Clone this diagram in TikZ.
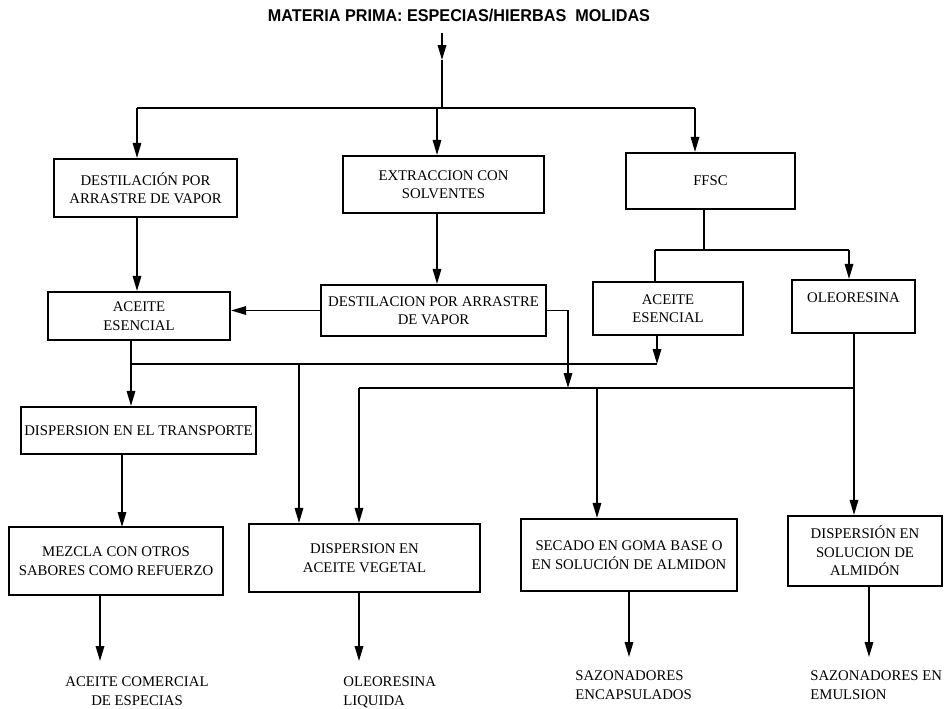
\documentclass[tikz,border=0pt]{standalone}
\usepackage{fontspec}
\setmainfont{Liberation Serif}
\newfontfamily\titlefont[FakeStretch=0.95]{Liberation Sans}
\usetikzlibrary{arrows.meta,positioning}

\begin{document}
\begin{tikzpicture}[
  x=0.2mm, y=-0.2mm,
  box/.style={draw, line width=1.2pt, align=center, inner sep=1pt, font=\fontsize{8.4}{10.5}\selectfont},
  result/.style={align=left, inner sep=0pt, font=\fontsize{8.4}{10.8}\selectfont},
  line/.style={line width=0.9pt},
  >={Triangle[length=3mm,width=1.7mm]}
]
\useasboundingbox (0,0) rectangle (944,708);

% titulo
\node[font=\titlefont\bfseries\fontsize{9.7}{11}\selectfont] (title) at (459,15) {MATERIA PRIMA: ESPECIAS/HIERBAS\ \ MOLIDAS};

% primera fila
\node[box, minimum width=36.6mm, minimum height=11.6mm] (dest) at (145.5,188) {DESTILACIÓN POR\\ARRASTRE DE VAPOR};
\node[box, minimum width=40.2mm, minimum height=11.4mm] (extr) at (443.5,184.5) {EXTRACCION CON\\SOLVENTES};
\node[box, minimum width=33.8mm, minimum height=11.2mm] (ffsc) at (710.5,181) {FFSC};

% segunda fila
\node[box, minimum width=36.4mm, minimum height=9.6mm] (aceite1) at (139,316) {ACEITE\\ESENCIAL};
\node[box, minimum width=45mm, minimum height=10.2mm] (dest2) at (433.5,310.5) {DESTILACION POR ARRASTRE\\DE VAPOR};
\node[box, minimum width=30mm, minimum height=10.6mm] (aceite2) at (668,308.5) {ACEITE\\ESENCIAL};
\node[box, minimum width=24.6mm, minimum height=10.6mm] (oleo) at (853.5,306.5) {OLEORESINA\\~};

% tercera fila
\node[box, minimum width=47mm, minimum height=9.4mm] (transp) at (138.5,430.5) {DISPERSION EN EL TRANSPORTE};
\node[box, minimum width=42.8mm, minimum height=13.6mm] (mezcla) at (116,561) {MEZCLA CON OTROS\\SABORES COMO REFUERZO};
\node[box, minimum width=46.2mm, minimum height=13.6mm] (veget) at (364.5,558) {DISPERSION EN\\ACEITE VEGETAL};
\node[box, minimum width=43.2mm, minimum height=14.4mm] (secado) at (629,555) {SECADO EN GOMA BASE O\\EN SOLUCIÓN DE ALMIDON};
\node[box, minimum width=30.8mm, minimum height=14mm] (almidon) at (865,551) {DISPERSIÓN EN\\SOLUCION DE\\ALMIDÓN};

% productos
\node[result, align=center] (prod1) at (137,691) {ACEITE COMERCIAL\\DE ESPECIAS};
\node[result, anchor=west] (prod2) at (343,692) {OLEORESINA\\LIQUIDA};
\node[result, anchor=west] (prod3) at (575,685) {SAZONADORES\\ENCAPSULADOS};
\node[result, anchor=west] (prod4) at (810,685) {SAZONADORES EN\\EMULSION};

% puntos de union
\coordinate (mid0) at (442,60);
\coordinate (top0) at (442,108);
\coordinate (top1) at (137,108);
\coordinate (top2) at (437,108);
\coordinate (top3) at (695,108);
\coordinate (split0) at (704,250);
\coordinate (split1) at (655,250);
\coordinate (split2) at (849,250);
\coordinate (bus1a) at (131,364);
\coordinate (bus1b) at (299,364);
\coordinate (bus1c) at (657,364);
\coordinate (bus2a) at (359,388);
\coordinate (bus2b) at (568,388);
\coordinate (bus2c) at (597,388);
\coordinate (bus2d) at (854,388);
\coordinate (drop1) at (122,527);
\coordinate (end1) at (100,661);
\coordinate (end2) at (359,661);
\coordinate (end3) at (629,657);
\coordinate (end4) at (869,657);

% conexiones
\draw[line, ->] ([yshift=-1mm]title.south -| mid0) -- (mid0);
\draw[line] (mid0) -- (top0);
\draw[line] (top1) -- (top3);
\draw[line, ->] (top1) -- (top1 |- dest.north);
\draw[line, ->] (top2) -- (top2 |- extr.north);
\draw[line, ->] (top3) -- (top3 |- ffsc.north);
\draw[line, ->] (dest.south -| top1) -- (aceite1.north -| top1);
\draw[line, ->] (extr.south -| top2) -- (dest2.north -| top2);
\draw[line, ->] (dest2.west) -- (dest2.west -| aceite1.east);
\draw[line, ->] (dest2.east) -| (bus2b);
\draw[line] (ffsc.south -| split0) -- (split0);
\draw[line] (split1) -- (split2);
\draw[line] (split1) -- (split1 |- aceite2.north);
\draw[line, ->] (split2) -- (split2 |- oleo.north);
\draw[line] (aceite1.south -| bus1a) -- (bus1a);
\draw[line] (bus1a) -- (bus1c);
\draw[line, ->] (aceite2.south -| bus1c) -- (bus1c);
\draw[line, ->] (bus1a) -- (bus1a |- transp.north);
\draw[line, ->] (bus1b) -- (bus1b |- veget.north);
\draw[line] (oleo.south -| bus2d) -- (bus2d);
\draw[line] (bus2a) -- (bus2d);
\draw[line, ->] (bus2a) -- (bus2a |- veget.north);
\draw[line, ->] (bus2c) -- (bus2c |- secado.north);
\draw[line, ->] (bus2d) -- (bus2d |- almidon.north);
\draw[line, ->] (transp.south -| drop1) -- (drop1);
\draw[line, ->] (mezcla.south -| end1) -- (end1);
\draw[line, ->] (veget.south -| end2) -- (end2);
\draw[line, ->] (secado.south -| end3) -- (end3);
\draw[line, ->] (almidon.south -| end4) -- (end4);
\end{tikzpicture}
\end{document}
